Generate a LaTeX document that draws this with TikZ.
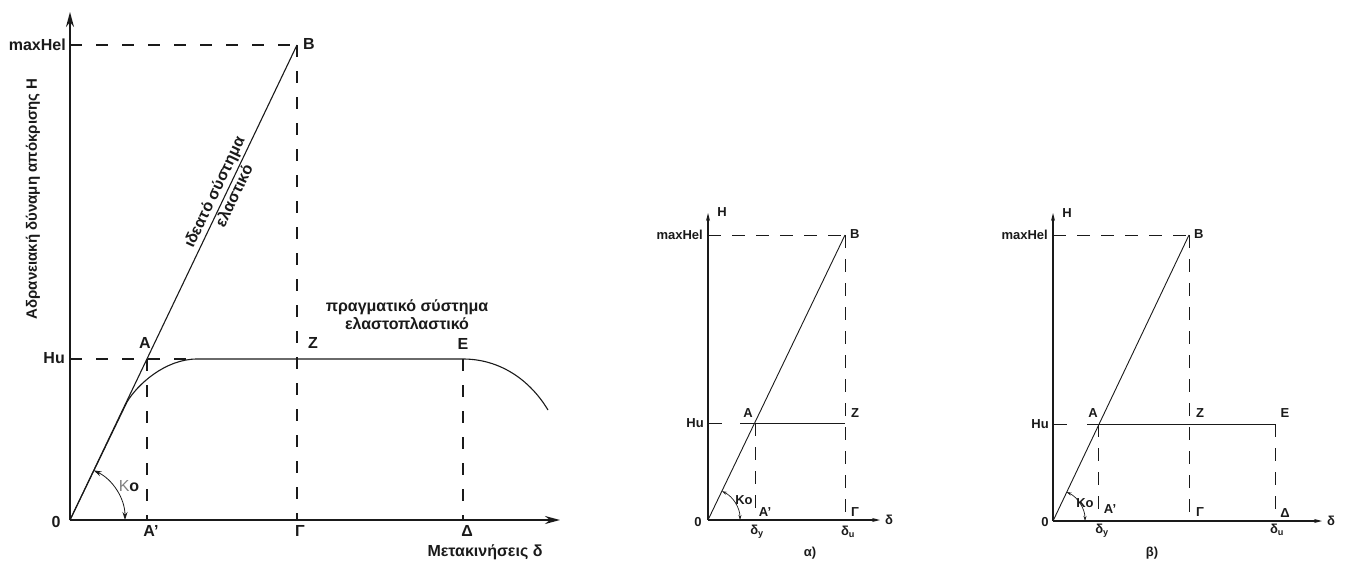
\documentclass[tikz,border=0pt]{standalone}
\usepackage{fontspec}
\setmainfont{Liberation Sans}
\usepackage{xcolor}
\definecolor{cInk}{HTML}{1A1A1A}
\definecolor{cKo}{HTML}{808080}
\usepackage{tikz}
\usetikzlibrary{arrows.meta,calc}
\tikzset{
  axis-big/.style={-{Stealth[length=15pt,width=8pt]},line width=1.8pt,draw=cInk},
  axis-small/.style={-{Stealth[length=8pt,width=4pt]},line width=1.1pt,draw=cInk},
  curve/.style={line width=1.1pt,draw=cInk},
  curve-small/.style={line width=0.9pt,draw=cInk},
  guide/.style={line width=1.1pt,draw=cInk,dash pattern=on 12pt off 14pt},
  guide-small/.style={line width=0.9pt,draw=cInk,dash pattern=on 13pt off 11pt},
  angle-big/.style={{Stealth[length=8pt,width=5pt]}-{Stealth[length=8pt,width=5pt]},line width=0.8pt,draw=cInk},
  angle-small/.style={{Stealth[length=5pt,width=3pt]}-{Stealth[length=5pt,width=3pt]},line width=0.7pt,draw=cInk},
  lbl-big/.style={font=\fontsize{16}{18}\selectfont\bfseries,inner sep=1pt,text=cInk},
  lbl-small/.style={font=\fontsize{13}{15}\selectfont\bfseries,inner sep=1pt,text=cInk},
  txt-big/.style={font=\fontsize{16}{18}\selectfont\bfseries,align=center,inner sep=1pt,text=cInk},
  txt-small/.style={font=\fontsize{13}{15}\selectfont\bfseries,inner sep=1pt,text=cInk},
}

\begin{document}
\begin{tikzpicture}[x=1pt,y=-1pt]
  \useasboundingbox (0,0) rectangle (1346,562);

  % --- left: real vs ideal response ---
  \coordinate (O1) at (70,520);
  \coordinate (Ytop1) at (70,12);
  \coordinate (Xend1) at (560,520);
  \coordinate (Ymax1) at (70,45);
  \coordinate (Yhu1) at (70,359);
  \coordinate (B1) at (297,45);
  \coordinate (A1) at (147,359);
  \coordinate (E1) at (463,359);
  \coordinate (Ap1) at (147,520);
  \coordinate (G1) at (297,520);
  \coordinate (D1) at (463,520);
  \coordinate (K1) at (127,402);
  \coordinate (P1) at (197,359);
  \coordinate (F1) at (548,410);
  \draw[axis-big] (O1) -- (Ytop1);
  \draw[axis-big] (O1) -- (Xend1);
  \draw[guide] (Ymax1) -- (B1);
  \draw[guide] (B1) -- (G1);
  \draw[guide] (Yhu1) -- (P1);
  \draw[guide] (A1) -- (Ap1);
  \draw[guide] (E1) -- (D1);
  \draw[curve] (O1)
    -- node[sloped,pos=0.68,above=1pt,txt-big] (ideal1) {ιδεατό σύστημα}
       node[sloped,pos=0.69,below=0pt,txt-big] (ideal2) {ελαστικό} (B1);
  \draw[curve] (O1) -- (K1) .. controls (137,385) and (165,359) .. (P1)
    -- (E1) .. controls (500,359) and (530,380) .. (F1);
  \draw[angle-big] (O1) ++(0:55pt) arc[start angle=0,end angle=64.5,radius=55pt];
  \node[lbl-big,anchor=east] (maxhel1) at (67,45) {maxHel};
  \node[lbl-big,anchor=west] (lblB1) at (302,44) {B};
  \node[lbl-big,anchor=east] (hu1) at (66,358) {Hu};
  \node[txt-big] (zero1) at (56,522) {0};
  \node[lbl-big] (lblA1) at (145,343) {A};
  \node[lbl-big] (lblZ1) at (313,343) {Z};
  \node[lbl-big] (lblE1) at (463,344) {E};
  \node[lbl-big] (lblAp1) at (151,531) {A'};
  \node[lbl-big] (lblG1) at (300,531) {Γ};
  \node[lbl-big] (lblD1) at (467,531) {Δ};
  \node[txt-big] (ko1) at (129,486) {{\mdseries\color{cKo}K}o};
  \node[txt-big] (xlabel1) at (485,552) {Μετακινήσεις δ};
  \node[txt-big,font=\fontsize{15}{17}\selectfont\bfseries,rotate=90] (ylabel1) at (33,199) {Αδρανειακή δύναμη απόκρισης H};
  \node[txt-big] (real1) at (407,315) {πραγματικό σύστημα\\ελαστοπλαστικό};

  % --- middle: case a) ---
  \coordinate (O2) at (708,520);
  \coordinate (Ytop2) at (708,213);
  \coordinate (Xend2) at (880,520);
  \coordinate (Ymax2) at (708,235);
  \coordinate (Yhu2) at (708,423);
  \coordinate (B2) at (845,235);
  \coordinate (A2) at (755,423);
  \coordinate (Z2) at (845,423);
  \coordinate (Ap2) at (755,520);
  \coordinate (G2) at (845,520);
  \draw[axis-small] (O2) -- (Ytop2);
  \draw[axis-small] (O2) -- (Xend2);
  \draw[guide-small] (Ymax2) -- (B2);
  \draw[guide-small] (B2) -- (G2);
  \draw[guide-small] (A2) -- (Ap2);
  \draw[curve-small] (O2) -- (B2);
  \draw[curve-small,dash pattern=on 14pt off 18pt on 300pt] (Yhu2) -- (Z2);
  \draw[angle-small] (O2) ++(0:32pt) arc[start angle=0,end angle=64.3,radius=32pt];
  \node[lbl-small] (lblH2) at (722,212) {H};
  \node[lbl-small,anchor=east] (maxhel2) at (704,235) {maxHel};
  \node[lbl-small,anchor=west] (lblB2) at (849,234) {B};
  \node[lbl-small,anchor=east] (hu2) at (705,423) {Hu};
  \node[lbl-small] (lblA2) at (748,413) {A};
  \node[lbl-small] (lblZ2) at (855,413) {Z};
  \node[txt-small] (zero2) at (698,522) {0};
  \node[lbl-small] (lblAp2) at (765,512) {A'};
  \node[lbl-small] (lblG2) at (855,512) {Γ};
  \node[txt-small] (dy2) at (757,532) {δ\textsubscript{y}};
  \node[txt-small] (du2) at (848,532) {δ\textsubscript{u}};
  \node[txt-small] (ko2) at (744,500) {Ko};
  \node[txt-small] (dx2) at (889,520) {δ};
  \node[txt-small] (case2) at (810,553) {α)};

  % --- right: case b) ---
  \coordinate (O3) at (1053,521);
  \coordinate (Ytop3) at (1053,213);
  \coordinate (Xend3) at (1322,521);
  \coordinate (Ymax3) at (1053,235);
  \coordinate (Yhu3) at (1053,424);
  \coordinate (B3) at (1189,235);
  \coordinate (A3) at (1098,424);
  \coordinate (E3) at (1275,424);
  \coordinate (Ap3) at (1098,521);
  \coordinate (G3) at (1189,521);
  \coordinate (D3) at (1275,521);
  \draw[axis-small] (O3) -- (Ytop3);
  \draw[axis-small] (O3) -- (Xend3);
  \draw[guide-small] (Ymax3) -- (B3);
  \draw[guide-small] (B3) -- (G3);
  \draw[guide-small] (A3) -- (Ap3);
  \draw[guide-small] (E3) -- (D3);
  \draw[curve-small] (O3) -- (B3);
  \draw[curve-small,dash pattern=on 14pt off 20pt on 400pt] (Yhu3) -- (E3);
  \draw[angle-small] (O3) ++(0:32pt) arc[start angle=0,end angle=64.9,radius=32pt];
  \node[lbl-small] (lblH3) at (1067,213) {H};
  \node[lbl-small,anchor=east] (maxhel3) at (1049,235) {maxHel};
  \node[lbl-small,anchor=west] (lblB3) at (1193,234) {B};
  \node[lbl-small,anchor=east] (hu3) at (1050,424) {Hu};
  \node[lbl-small] (lblA3) at (1093,413) {A};
  \node[lbl-small] (lblZ3) at (1200,413) {Z};
  \node[lbl-small] (lblE3) at (1285,413) {E};
  \node[txt-small] (zero3) at (1045,522) {0};
  \node[lbl-small] (lblAp3) at (1110,509) {A'};
  \node[lbl-small] (lblG3) at (1200,512) {Γ};
  \node[lbl-small] (lblD3) at (1285,513) {Δ};
  \node[txt-small] (dy3) at (1102,531) {δ\textsubscript{y}};
  \node[txt-small] (du3) at (1277,530) {δ\textsubscript{u}};
  \node[txt-small] (ko3) at (1085,503) {Ko};
  \node[txt-small] (dx3) at (1331,521) {δ};
  \node[txt-small] (case3) at (1152,553) {β)};
\end{tikzpicture}
\end{document}
